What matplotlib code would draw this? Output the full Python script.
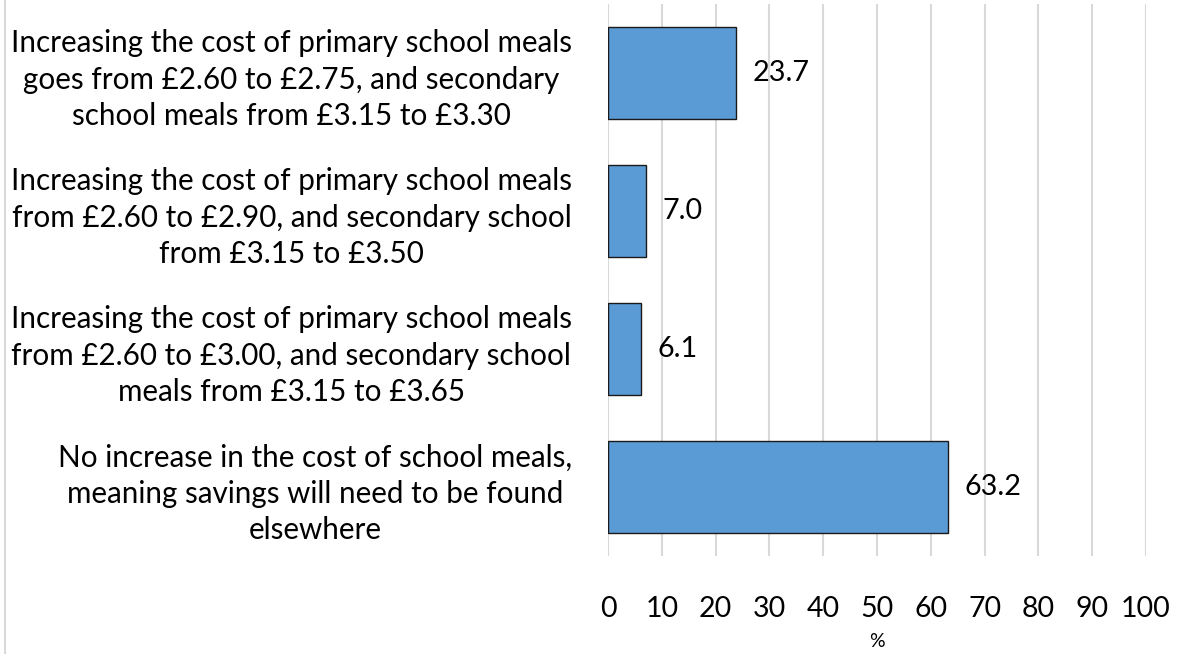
import matplotlib
matplotlib.use("Agg")
import matplotlib.pyplot as plt
from matplotlib.lines import Line2D

categories = [
    "Increasing the cost of primary school meals\ngoes from £2.60 to £2.75, and secondary\nschool meals from £3.15 to £3.30",
    "Increasing the cost of primary school meals\nfrom £2.60 to £2.90, and secondary school\nfrom £3.15 to £3.50",
    "Increasing the cost of primary school meals\nfrom £2.60 to £3.00, and secondary school\nmeals from £3.15 to £3.65",
    "No increase in the cost of school meals,\nmeaning savings will need to be found\nelsewhere",
]
values = [23.7, 7.0, 6.1, 63.2]
xticks = [0, 10, 20, 30, 40, 50, 60, 70, 80, 90, 100]
xlabel = "%"

plt.rcParams['font.family'] = ['Lato', 'DejaVu Sans']

fig = plt.figure(figsize=(11.79, 6.54), dpi=100)
ax = fig.add_axes([608/1179, (654-556)/654, (1146-608)/1179, (556-4)/654])

ypos = list(range(len(categories)))
ax.barh(ypos, values, height=0.67, color="#5B9BD5", edgecolor="#1a1a1a", linewidth=1.0, zorder=3)
ax.set_ylim(len(categories) - 0.5, -0.5)
ax.set_xlim(0, 100)
ax.set_xticks(xticks)
ax.set_xticklabels([str(t) for t in xticks], fontsize=20.5)
ax.set_yticks(ypos)
ax.set_yticklabels(categories, fontsize=21.3, multialignment='center', linespacing=1.36)
ax.tick_params(axis='y', length=0, pad=26)
ax.tick_params(axis='x', length=0, pad=29)
ax.grid(axis='x', color="#D9D9D9", linewidth=1.5, zorder=0)
for s in ax.spines.values():
    s.set_visible(False)
ax.set_xlabel(xlabel, fontsize=14, labelpad=8)

for y, v in zip(ypos, values):
    ax.annotate(f"{v:.1f}", xy=(v, y), xytext=(12, 0), textcoords="offset points",
                va='center', ha='left', fontsize=20.7)

fig.add_artist(Line2D([5/1179, 5/1179], [0, 1], transform=fig.transFigure, color="#D9D9D9", linewidth=1.5))

fig.savefig("out.png", dpi=100)
